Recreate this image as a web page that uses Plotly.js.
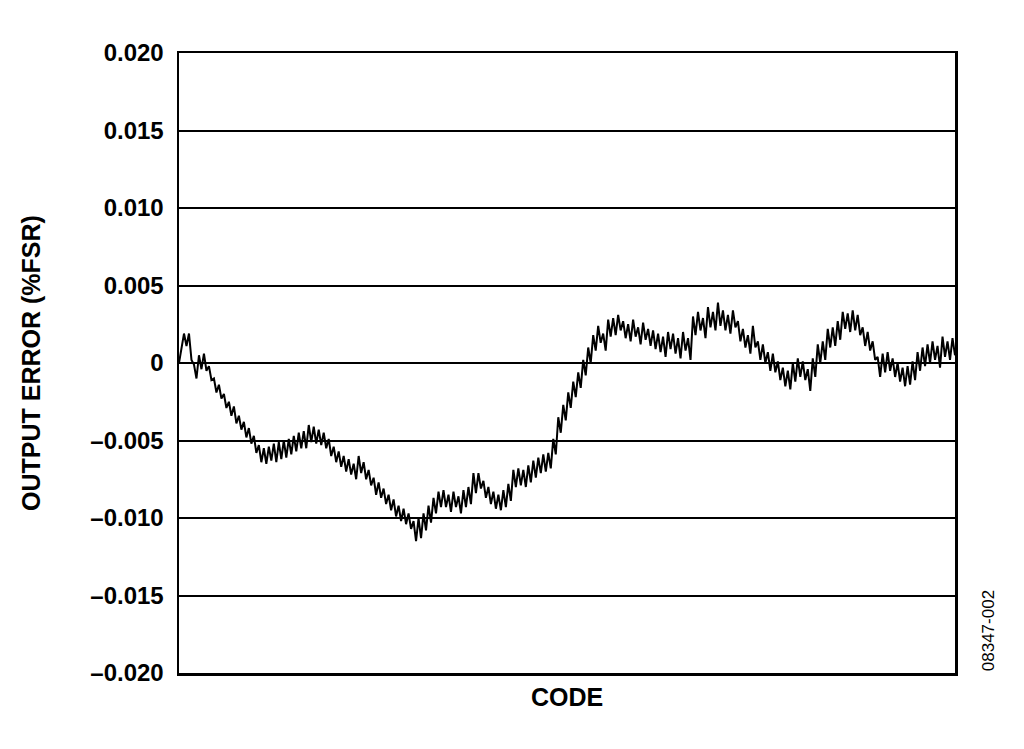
<!DOCTYPE html>
<html>
<head>
<meta charset="utf-8">
<script src="https://cdn.plot.ly/plotly-3.0.1.min.js"></script>
<style>
  html, body { margin: 0; padding: 0; background: #fff; }
  #chart { width: 1024px; height: 749px; }
</style>
</head>
<body>
<div id="chart"></div>
<script>
"use strict";

// output error (%FSR), left to right across the code range
let outputError = [
    0.0000, 0.0009, 0.0019, 0.0011, 0.0019, 0.0002, -0.0001, -0.0010, 0.0005, -0.0004,
    0.0006, -0.0005, -0.0002, -0.0011, -0.0010, -0.0019, -0.0014, -0.0023, -0.0020, -0.0029,
    -0.0025, -0.0034, -0.0028, -0.0039, -0.0034, -0.0043, -0.0038, -0.0048, -0.0042, -0.0052,
    -0.0047, -0.0058, -0.0053, -0.0064, -0.0055, -0.0065, -0.0054, -0.0063, -0.0052, -0.0064,
    -0.0051, -0.0062, -0.0050, -0.0061, -0.0049, -0.0059, -0.0047, -0.0057, -0.0045, -0.0055,
    -0.0044, -0.0055, -0.0040, -0.0051, -0.0041, -0.0052, -0.0043, -0.0053, -0.0045, -0.0055,
    -0.0049, -0.0060, -0.0054, -0.0064, -0.0057, -0.0067, -0.0060, -0.0070, -0.0062, -0.0072,
    -0.0065, -0.0075, -0.0060, -0.0071, -0.0064, -0.0075, -0.0069, -0.0079, -0.0074, -0.0085,
    -0.0077, -0.0087, -0.0081, -0.0091, -0.0085, -0.0095, -0.0088, -0.0099, -0.0092, -0.0102,
    -0.0094, -0.0104, -0.0097, -0.0107, -0.0102, -0.0115, -0.0100, -0.0113, -0.0097, -0.0108,
    -0.0092, -0.0103, -0.0087, -0.0097, -0.0083, -0.0093, -0.0082, -0.0093, -0.0085, -0.0096,
    -0.0083, -0.0093, -0.0086, -0.0097, -0.0082, -0.0093, -0.0080, -0.0091, -0.0071, -0.0084,
    -0.0071, -0.0081, -0.0076, -0.0087, -0.0080, -0.0091, -0.0083, -0.0094, -0.0085, -0.0095,
    -0.0082, -0.0093, -0.0078, -0.0089, -0.0069, -0.0080, -0.0068, -0.0079, -0.0069, -0.0080,
    -0.0066, -0.0077, -0.0063, -0.0074, -0.0061, -0.0071, -0.0059, -0.0070, -0.0058, -0.0068,
    -0.0049, -0.0059, -0.0035, -0.0045, -0.0027, -0.0037, -0.0019, -0.0029, -0.0012, -0.0022,
    -0.0006, -0.0016, 0.0002, -0.0008, 0.0010, 0.0000, 0.0018, 0.0008, 0.0024, 0.0013,
    0.0019, 0.0008, 0.0028, 0.0017, 0.0029, 0.0018, 0.0031, 0.0021, 0.0027, 0.0016,
    0.0025, 0.0014, 0.0028, 0.0017, 0.0023, 0.0012, 0.0026, 0.0015, 0.0022, 0.0011,
    0.0021, 0.0009, 0.0019, 0.0007, 0.0017, 0.0004, 0.0020, 0.0009, 0.0019, 0.0006,
    0.0016, 0.0003, 0.0020, 0.0008, 0.0016, 0.0002, 0.0030, 0.0018, 0.0033, 0.0021,
    0.0029, 0.0016, 0.0036, 0.0023, 0.0033, 0.0021, 0.0039, 0.0024, 0.0034, 0.0021,
    0.0031, 0.0019, 0.0034, 0.0023, 0.0027, 0.0014, 0.0022, 0.0010, 0.0018, 0.0006,
    0.0024, 0.0010, 0.0014, 0.0002, 0.0012, 0.0000, 0.0007, -0.0005, 0.0006, -0.0006,
    0.0001, -0.0011, -0.0003, -0.0015, -0.0005, -0.0017, 0.0000, -0.0012, 0.0003, -0.0009,
    0.0001, -0.0011, -0.0004, -0.0018, 0.0003, -0.0009, 0.0012, 0.0000, 0.0014, 0.0002,
    0.0022, 0.0010, 0.0023, 0.0011, 0.0027, 0.0015, 0.0033, 0.0022, 0.0032, 0.0020,
    0.0034, 0.0021, 0.0031, 0.0018, 0.0023, 0.0011, 0.0020, 0.0008, 0.0014, 0.0002,
    0.0004, -0.0009, 0.0006, -0.0006, 0.0007, -0.0005, 0.0003, -0.0009, 0.0000, -0.0012,
    -0.0003, -0.0015, -0.0002, -0.0014, 0.0001, -0.0011, 0.0007, -0.0005, 0.0010, -0.0002,
    0.0012, 0.0000, 0.0014, 0.0002, 0.0011, -0.0003, 0.0017, 0.0004, 0.0014, 0.0002,
    0.0016, 0.0005
];

let yTickValues = [0.020, 0.015, 0.010, 0.005, 0, -0.005, -0.010, -0.015, -0.020];
let yTickLabels = ["0.020", "0.015", "0.010", "0.005", "0", "\u20130.005", "\u20130.010", "\u20130.015", "\u20130.020"];

let tickFont = {family: "Liberation Sans, Arial, sans-serif", size: 24, color: "#000"};
let titleFont = {family: "Liberation Sans, Arial, sans-serif", size: 25, color: "#000"};

let trace = {
    y: outputError,
    type: "scatter",
    mode: "lines",
    line: {color: "#000", width: 2},
    hoverinfo: "none"
};

let layout = {
    width: 1024,
    height: 749,
    margin: {l: 179, r: 69, t: 53, b: 76},
    paper_bgcolor: "#fff",
    plot_bgcolor: "#fff",
    showlegend: false,
    font: titleFont,
    xaxis: {
        range: [0, outputError.length - 1],
        showticklabels: false,
        ticks: "",
        showgrid: false,
        zeroline: false,
        showline: true,
        mirror: true,
        linecolor: "#000",
        linewidth: 2.5,
        title: {text: "<b>CODE</b>", font: titleFont, standoff: 14}
    },
    yaxis: {
        range: [-0.02, 0.02],
        tickvals: yTickValues,
        ticktext: yTickLabels.map(function (t) { return "<b>" + t + "</b>"; }),
        ticks: "",
        ticklabelstandoff: 8,
        tickfont: tickFont,
        showgrid: true,
        gridcolor: "#000",
        gridwidth: 2,
        zeroline: false,
        showline: true,
        mirror: true,
        linecolor: "#000",
        linewidth: 2.5,
        title: {text: "<b>OUTPUT ERROR (%FSR)</b>", font: titleFont, standoff: 43}
    },
    annotations: [{
        text: "08347-002",
        xref: "paper", yref: "paper",
        x: 1.0425, y: 0.069,
        xanchor: "center", yanchor: "middle",
        textangle: -90,
        showarrow: false,
        font: {family: "Liberation Sans, Arial, sans-serif", size: 17, color: "#000"}
    }]
};

Plotly.newPlot("chart", [trace], layout, {staticPlot: true});
</script>
</body>
</html>
